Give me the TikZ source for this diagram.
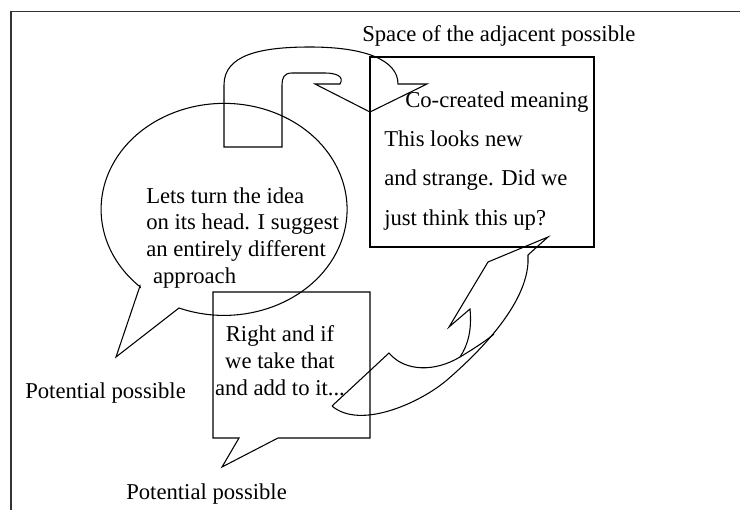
\documentclass[tikz,border=0pt]{standalone}
\usepackage{fontspec}
\setmainfont{Liberation Serif}
\usetikzlibrary{calc}

\begin{document}
\begin{tikzpicture}[x=0.75pt,y=0.75pt,yscale=-1,xscale=1,
  txt/.style={inner sep=0pt, font=\fontsize{17}{20}\selectfont},
  outl/.style={line width=0.8pt, line join=miter}]
\useasboundingbox (0,0) rectangle (740,510);

%Straight Lines [id:frame]
\draw [line width=1.1pt, color=black!80]  (11,510) -- (11,11.5) -- (740,11.5) ;

%Shape: Ellipse callout [id:bubble1]
\draw [outl]  (140,286) -- (116,357) -- (179,308) arc [start angle=111.5, end angle=-227, x radius=123, y radius=106] -- cycle ;

%Shape: Rectangle [id:meaningbox]
\draw [outl]  (370,57) rectangle (594,247) ;

%Shape: Rectangular callout [id:bubble2]
\draw [outl]  (239,438) -- (213,438) -- (213,292) -- (370,292) -- (370,438) -- (278,438) -- (222,467) -- cycle ;

%Shape: U-Turn Arrow [id:uturn]
\draw [outl]  (224,147) -- (224,85) .. controls (224,55) and (260,47) .. (310,47) .. controls (365,47) and (398,60) .. (398,84) -- (427,84) -- (370,112) -- (315,84) -- (340,84) .. controls (345,76) and (335,73) .. (325,73) -- (292,73) .. controls (284,73) and (282,78) .. (282,85) -- (282,147) -- cycle ;

%Shape: Curved Up Arrow [id:curvedup]
\draw [outl]  (332,406) -- (389,353) .. controls (405,372) and (435,372) .. (460,357) .. controls (475,348) and (487,340) .. (494,334) ;
\draw [outl]  (460,357) .. controls (468,345) and (472,330) .. (470,309) -- (449,327) -- (488,262) -- (548,237) -- (528,255) -- (528,263) .. controls (525,310) and (470,360) .. (447,380) .. controls (420,403) and (360,430) .. (332,406) ;

% Text Node (base = last line)
\node [txt, anchor=base west] (adjacent) at (362,42) {Space of the adjacent possible};
% Text Node
\node [txt, anchor=base west] (cocreated) at (405,108) {Co-created meaning};
% Text Node
\node [txt, anchor=base west, align=left, font=\fontsize{17}{29.6}\selectfont] (looksnew) at (384,225) {This looks new\\and strange. Did we\\just think this up?};
% Text Node
\node [txt, anchor=base west, align=left] (turnidea) at (146,283) {Lets turn the idea\\on its head. I suggest\\an entirely different\\\hspace*{0.3em}approach};
% Text Node
\node [txt, anchor=base, align=center] (addto) at (280,395) {Right and if\\we take that\\and add to it...};
% Text Node
\node [txt, anchor=base west] (potential1) at (25,398) {Potential possible};
% Text Node
\node [txt, anchor=base west] (potential2) at (126,499) {Potential possible};

\end{tikzpicture}
\end{document}
